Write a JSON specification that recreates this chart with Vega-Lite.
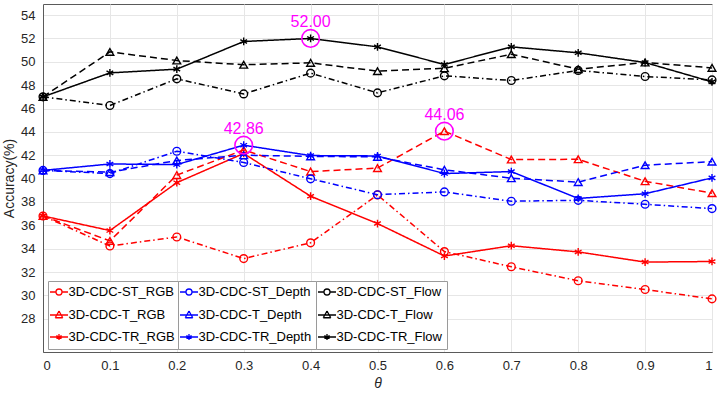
{
  "$schema": "https://vega.github.io/schema/vega-lite/v6.json",
  "width": 669,
  "height": 348,
  "autosize": {"type": "none"},
  "padding": {"left": 43, "top": 4, "right": 8, "bottom": 44},
  "background": "white",
  "config": {
    "font": "Liberation Sans",
    "view": {"stroke": "#5a5a5a", "strokeWidth": 1},
    "axis": {
      "domainColor": "#5a5a5a",
      "ticks": false,
      "gridColor": "#e6e6e6",
      "gridWidth": 1,
      "labelFont": "Liberation Sans",
      "labelFontSize": 13,
      "labelColor": "#262626",
      "titleFont": "Liberation Sans",
      "titleFontSize": 14,
      "titleFontWeight": "normal",
      "titleColor": "#262626"
    },
    "legend": {
      "title": null, "orient": "none", "direction": "vertical",
      "fillColor": "white", "strokeColor": "#9a9a9a", "padding": 4.5, "symbolSize": 100,
      "labelFontSize": 13, "labelOffset": 3, "rowPadding": 8, "labelColor": "#000000", "labelLimit": 300,
      "symbolStrokeWidth": 1.3, "symbolFillColor": "transparent", "symbolOpacity": 1
    }
  },
  "datasets": {
    "acc": [
      {"theta": 0, "acc": 36.8, "series": "3D-CDC-ST_RGB", "modality": "RGB", "type": "ST"},
      {"theta": 0.1, "acc": 34.23, "series": "3D-CDC-ST_RGB", "modality": "RGB", "type": "ST"},
      {"theta": 0.2, "acc": 35.0, "series": "3D-CDC-ST_RGB", "modality": "RGB", "type": "ST"},
      {"theta": 0.3, "acc": 33.15, "series": "3D-CDC-ST_RGB", "modality": "RGB", "type": "ST"},
      {"theta": 0.4, "acc": 34.5, "series": "3D-CDC-ST_RGB", "modality": "RGB", "type": "ST"},
      {"theta": 0.5, "acc": 38.6, "series": "3D-CDC-ST_RGB", "modality": "RGB", "type": "ST"},
      {"theta": 0.6, "acc": 33.75, "series": "3D-CDC-ST_RGB", "modality": "RGB", "type": "ST"},
      {"theta": 0.7, "acc": 32.45, "series": "3D-CDC-ST_RGB", "modality": "RGB", "type": "ST"},
      {"theta": 0.8, "acc": 31.25, "series": "3D-CDC-ST_RGB", "modality": "RGB", "type": "ST"},
      {"theta": 0.9, "acc": 30.5, "series": "3D-CDC-ST_RGB", "modality": "RGB", "type": "ST"},
      {"theta": 1, "acc": 29.7, "series": "3D-CDC-ST_RGB", "modality": "RGB", "type": "ST"},
      {"theta": 0, "acc": 36.8, "series": "3D-CDC-T_RGB", "modality": "RGB", "type": "T"},
      {"theta": 0.1, "acc": 34.66, "series": "3D-CDC-T_RGB", "modality": "RGB", "type": "T"},
      {"theta": 0.2, "acc": 40.3, "series": "3D-CDC-T_RGB", "modality": "RGB", "type": "T"},
      {"theta": 0.3, "acc": 42.45, "series": "3D-CDC-T_RGB", "modality": "RGB", "type": "T"},
      {"theta": 0.4, "acc": 40.6, "series": "3D-CDC-T_RGB", "modality": "RGB", "type": "T"},
      {"theta": 0.5, "acc": 40.9, "series": "3D-CDC-T_RGB", "modality": "RGB", "type": "T"},
      {"theta": 0.6, "acc": 44.06, "series": "3D-CDC-T_RGB", "modality": "RGB", "type": "T"},
      {"theta": 0.7, "acc": 41.63, "series": "3D-CDC-T_RGB", "modality": "RGB", "type": "T"},
      {"theta": 0.8, "acc": 41.65, "series": "3D-CDC-T_RGB", "modality": "RGB", "type": "T"},
      {"theta": 0.9, "acc": 39.77, "series": "3D-CDC-T_RGB", "modality": "RGB", "type": "T"},
      {"theta": 1, "acc": 38.75, "series": "3D-CDC-T_RGB", "modality": "RGB", "type": "T"},
      {"theta": 0, "acc": 36.8, "series": "3D-CDC-TR_RGB", "modality": "RGB", "type": "TR"},
      {"theta": 0.1, "acc": 35.55, "series": "3D-CDC-TR_RGB", "modality": "RGB", "type": "TR"},
      {"theta": 0.2, "acc": 39.65, "series": "3D-CDC-TR_RGB", "modality": "RGB", "type": "TR"},
      {"theta": 0.3, "acc": 42.15, "series": "3D-CDC-TR_RGB", "modality": "RGB", "type": "TR"},
      {"theta": 0.4, "acc": 38.49, "series": "3D-CDC-TR_RGB", "modality": "RGB", "type": "TR"},
      {"theta": 0.5, "acc": 36.15, "series": "3D-CDC-TR_RGB", "modality": "RGB", "type": "TR"},
      {"theta": 0.6, "acc": 33.37, "series": "3D-CDC-TR_RGB", "modality": "RGB", "type": "TR"},
      {"theta": 0.7, "acc": 34.25, "series": "3D-CDC-TR_RGB", "modality": "RGB", "type": "TR"},
      {"theta": 0.8, "acc": 33.72, "series": "3D-CDC-TR_RGB", "modality": "RGB", "type": "TR"},
      {"theta": 0.9, "acc": 32.85, "series": "3D-CDC-TR_RGB", "modality": "RGB", "type": "TR"},
      {"theta": 1, "acc": 32.9, "series": "3D-CDC-TR_RGB", "modality": "RGB", "type": "TR"},
      {"theta": 0, "acc": 40.7, "series": "3D-CDC-ST_Depth", "modality": "Depth", "type": "ST"},
      {"theta": 0.1, "acc": 40.43, "series": "3D-CDC-ST_Depth", "modality": "Depth", "type": "ST"},
      {"theta": 0.2, "acc": 42.34, "series": "3D-CDC-ST_Depth", "modality": "Depth", "type": "ST"},
      {"theta": 0.3, "acc": 41.38, "series": "3D-CDC-ST_Depth", "modality": "Depth", "type": "ST"},
      {"theta": 0.4, "acc": 39.98, "series": "3D-CDC-ST_Depth", "modality": "Depth", "type": "ST"},
      {"theta": 0.5, "acc": 38.62, "series": "3D-CDC-ST_Depth", "modality": "Depth", "type": "ST"},
      {"theta": 0.6, "acc": 38.86, "series": "3D-CDC-ST_Depth", "modality": "Depth", "type": "ST"},
      {"theta": 0.7, "acc": 38.06, "series": "3D-CDC-ST_Depth", "modality": "Depth", "type": "ST"},
      {"theta": 0.8, "acc": 38.14, "series": "3D-CDC-ST_Depth", "modality": "Depth", "type": "ST"},
      {"theta": 0.9, "acc": 37.8, "series": "3D-CDC-ST_Depth", "modality": "Depth", "type": "ST"},
      {"theta": 1, "acc": 37.43, "series": "3D-CDC-ST_Depth", "modality": "Depth", "type": "ST"},
      {"theta": 0, "acc": 40.7, "series": "3D-CDC-T_Depth", "modality": "Depth", "type": "T"},
      {"theta": 0.1, "acc": 40.55, "series": "3D-CDC-T_Depth", "modality": "Depth", "type": "T"},
      {"theta": 0.2, "acc": 41.55, "series": "3D-CDC-T_Depth", "modality": "Depth", "type": "T"},
      {"theta": 0.3, "acc": 42.0, "series": "3D-CDC-T_Depth", "modality": "Depth", "type": "T"},
      {"theta": 0.4, "acc": 41.9, "series": "3D-CDC-T_Depth", "modality": "Depth", "type": "T"},
      {"theta": 0.5, "acc": 41.86, "series": "3D-CDC-T_Depth", "modality": "Depth", "type": "T"},
      {"theta": 0.6, "acc": 40.75, "series": "3D-CDC-T_Depth", "modality": "Depth", "type": "T"},
      {"theta": 0.7, "acc": 40.03, "series": "3D-CDC-T_Depth", "modality": "Depth", "type": "T"},
      {"theta": 0.8, "acc": 39.7, "series": "3D-CDC-T_Depth", "modality": "Depth", "type": "T"},
      {"theta": 0.9, "acc": 41.15, "series": "3D-CDC-T_Depth", "modality": "Depth", "type": "T"},
      {"theta": 1, "acc": 41.45, "series": "3D-CDC-T_Depth", "modality": "Depth", "type": "T"},
      {"theta": 0, "acc": 40.7, "series": "3D-CDC-TR_Depth", "modality": "Depth", "type": "TR"},
      {"theta": 0.1, "acc": 41.25, "series": "3D-CDC-TR_Depth", "modality": "Depth", "type": "TR"},
      {"theta": 0.2, "acc": 41.2, "series": "3D-CDC-TR_Depth", "modality": "Depth", "type": "TR"},
      {"theta": 0.3, "acc": 42.86, "series": "3D-CDC-TR_Depth", "modality": "Depth", "type": "TR"},
      {"theta": 0.4, "acc": 41.97, "series": "3D-CDC-TR_Depth", "modality": "Depth", "type": "TR"},
      {"theta": 0.5, "acc": 41.94, "series": "3D-CDC-TR_Depth", "modality": "Depth", "type": "TR"},
      {"theta": 0.6, "acc": 40.43, "series": "3D-CDC-TR_Depth", "modality": "Depth", "type": "TR"},
      {"theta": 0.7, "acc": 40.6, "series": "3D-CDC-TR_Depth", "modality": "Depth", "type": "TR"},
      {"theta": 0.8, "acc": 38.3, "series": "3D-CDC-TR_Depth", "modality": "Depth", "type": "TR"},
      {"theta": 0.9, "acc": 38.7, "series": "3D-CDC-TR_Depth", "modality": "Depth", "type": "TR"},
      {"theta": 1, "acc": 40.06, "series": "3D-CDC-TR_Depth", "modality": "Depth", "type": "TR"},
      {"theta": 0, "acc": 47.0, "series": "3D-CDC-ST_Flow", "modality": "Flow", "type": "ST"},
      {"theta": 0.1, "acc": 46.26, "series": "3D-CDC-ST_Flow", "modality": "Flow", "type": "ST"},
      {"theta": 0.2, "acc": 48.54, "series": "3D-CDC-ST_Flow", "modality": "Flow", "type": "ST"},
      {"theta": 0.3, "acc": 47.25, "series": "3D-CDC-ST_Flow", "modality": "Flow", "type": "ST"},
      {"theta": 0.4, "acc": 49.03, "series": "3D-CDC-ST_Flow", "modality": "Flow", "type": "ST"},
      {"theta": 0.5, "acc": 47.34, "series": "3D-CDC-ST_Flow", "modality": "Flow", "type": "ST"},
      {"theta": 0.6, "acc": 48.8, "series": "3D-CDC-ST_Flow", "modality": "Flow", "type": "ST"},
      {"theta": 0.7, "acc": 48.4, "series": "3D-CDC-ST_Flow", "modality": "Flow", "type": "ST"},
      {"theta": 0.8, "acc": 49.26, "series": "3D-CDC-ST_Flow", "modality": "Flow", "type": "ST"},
      {"theta": 0.9, "acc": 48.74, "series": "3D-CDC-ST_Flow", "modality": "Flow", "type": "ST"},
      {"theta": 1, "acc": 48.45, "series": "3D-CDC-ST_Flow", "modality": "Flow", "type": "ST"},
      {"theta": 0, "acc": 47.0, "series": "3D-CDC-T_Flow", "modality": "Flow", "type": "T"},
      {"theta": 0.1, "acc": 50.85, "series": "3D-CDC-T_Flow", "modality": "Flow", "type": "T"},
      {"theta": 0.2, "acc": 50.11, "series": "3D-CDC-T_Flow", "modality": "Flow", "type": "T"},
      {"theta": 0.3, "acc": 49.75, "series": "3D-CDC-T_Flow", "modality": "Flow", "type": "T"},
      {"theta": 0.4, "acc": 49.91, "series": "3D-CDC-T_Flow", "modality": "Flow", "type": "T"},
      {"theta": 0.5, "acc": 49.2, "series": "3D-CDC-T_Flow", "modality": "Flow", "type": "T"},
      {"theta": 0.6, "acc": 49.45, "series": "3D-CDC-T_Flow", "modality": "Flow", "type": "T"},
      {"theta": 0.7, "acc": 50.65, "series": "3D-CDC-T_Flow", "modality": "Flow", "type": "T"},
      {"theta": 0.8, "acc": 49.37, "series": "3D-CDC-T_Flow", "modality": "Flow", "type": "T"},
      {"theta": 0.9, "acc": 49.94, "series": "3D-CDC-T_Flow", "modality": "Flow", "type": "T"},
      {"theta": 1, "acc": 49.48, "series": "3D-CDC-T_Flow", "modality": "Flow", "type": "T"},
      {"theta": 0, "acc": 47.0, "series": "3D-CDC-TR_Flow", "modality": "Flow", "type": "TR"},
      {"theta": 0.1, "acc": 49.05, "series": "3D-CDC-TR_Flow", "modality": "Flow", "type": "TR"},
      {"theta": 0.2, "acc": 49.37, "series": "3D-CDC-TR_Flow", "modality": "Flow", "type": "TR"},
      {"theta": 0.3, "acc": 51.74, "series": "3D-CDC-TR_Flow", "modality": "Flow", "type": "TR"},
      {"theta": 0.4, "acc": 52.0, "series": "3D-CDC-TR_Flow", "modality": "Flow", "type": "TR"},
      {"theta": 0.5, "acc": 51.28, "series": "3D-CDC-TR_Flow", "modality": "Flow", "type": "TR"},
      {"theta": 0.6, "acc": 49.77, "series": "3D-CDC-TR_Flow", "modality": "Flow", "type": "TR"},
      {"theta": 0.7, "acc": 51.28, "series": "3D-CDC-TR_Flow", "modality": "Flow", "type": "TR"},
      {"theta": 0.8, "acc": 50.77, "series": "3D-CDC-TR_Flow", "modality": "Flow", "type": "TR"},
      {"theta": 0.9, "acc": 49.94, "series": "3D-CDC-TR_Flow", "modality": "Flow", "type": "TR"},
      {"theta": 1, "acc": 48.28, "series": "3D-CDC-TR_Flow", "modality": "Flow", "type": "TR"}
    ],
    "ann": [
      {"theta": 0.3, "acc": 42.86, "label": "42.86"},
      {"theta": 0.4, "acc": 52.0, "label": "52.00"},
      {"theta": 0.6, "acc": 44.06, "label": "44.06"}
    ]
  },
  "encoding": {
    "x": {
      "field": "theta",
      "type": "quantitative",
      "scale": {"domain": [0, 1], "nice": false},
      "axis": {
        "values": [0, 0.1, 0.2, 0.3, 0.4, 0.5, 0.6, 0.7, 0.8, 0.9, 1],
        "format": "~g",
        "title": "θ",
        "titleFontStyle": "italic",
        "labelPadding": 7,
        "titlePadding": 4
      }
    },
    "y": {
      "field": "acc",
      "type": "quantitative",
      "scale": {"domain": [25.15, 54.95], "nice": false, "zero": false},
      "axis": {
        "values": [28, 30, 32, 34, 36, 38, 40, 42, 44, 46, 48, 50, 52, 54],
        "title": "Accuracy(%)",
        "labelPadding": 8,
        "titlePadding": 4
      }
    }
  },
  "layer": [
    {
      "data": {"name": "acc"},
      "transform": [{"filter": "datum.modality === 'RGB'"}],
      "layer": [
        {
          "mark": {"type": "line", "color": "#ff0000", "strokeWidth": 1.5},
          "encoding": {
            "strokeDash": {"field": "type", "type": "nominal", "scale": {"domain": ["ST", "T", "TR"], "range": [[6, 3, 1.5, 3], [7, 4], [1, 0]]}, "legend": null}
          }
        },
        {
          "mark": {"type": "point", "color": "#ff0000", "filled": false, "strokeWidth": 1.4, "size": 60, "opacity": 1},
          "encoding": {
            "shape": {
              "field": "series", "type": "nominal",
              "scale": {"domain": ["3D-CDC-ST_RGB", "3D-CDC-T_RGB", "3D-CDC-TR_RGB"], "range": ["circle", "triangle-up", "M0,-1V1M-0.87,-0.5L0.87,0.5M-0.87,0.5L0.87,-0.5M-0.5,0H0.5"]},
              "legend": null
            }
          }
        },
        {
          "mark": {"type": "point", "color": "#ff0000", "filled": false, "strokeWidth": 1.3, "size": 0},
          "encoding": {
            "shape": {
              "field": "series", "type": "nominal",
              "scale": {"domain": ["3D-CDC-ST_RGB", "3D-CDC-T_RGB", "3D-CDC-TR_RGB"], "range": ["M-1.8,0H-0.6M0.6,0H1.8M-0.6,0A0.6,0.6 0 1 1 0.6,0A0.6,0.6 0 1 1 -0.6,0", "M-1.8,0H1.8M0,-0.8L0.75,0.55M0.75,0.55L-0.75,0.55M-0.75,0.55L0,-0.8", "M-1.8,0H1.8M0,-0.6V0.6M-0.52,-0.3L0.52,0.3M-0.52,0.3L0.52,-0.3"]},
              "legend": {"legendX": 5, "legendY": 277, "symbolStrokeColor": "#ff0000", "symbolSize": 100}
            }
          }
        }
      ],
      "resolve": {"scale": {"shape": "independent"}, "legend": {"shape": "independent"}}
    },
    {
      "data": {"name": "acc"},
      "transform": [{"filter": "datum.modality === 'Depth'"}],
      "layer": [
        {
          "mark": {"type": "line", "color": "#0000ff", "strokeWidth": 1.5},
          "encoding": {
            "strokeDash": {"field": "type", "type": "nominal", "scale": {"domain": ["ST", "T", "TR"], "range": [[6, 3, 1.5, 3], [7, 4], [1, 0]]}, "legend": null}
          }
        },
        {
          "mark": {"type": "point", "color": "#0000ff", "filled": false, "strokeWidth": 1.4, "size": 60, "opacity": 1},
          "encoding": {
            "shape": {
              "field": "series", "type": "nominal",
              "scale": {"domain": ["3D-CDC-ST_Depth", "3D-CDC-T_Depth", "3D-CDC-TR_Depth"], "range": ["circle", "triangle-up", "M0,-1V1M-0.87,-0.5L0.87,0.5M-0.87,0.5L0.87,-0.5M-0.5,0H0.5"]},
              "legend": null
            }
          }
        },
        {
          "mark": {"type": "point", "color": "#0000ff", "filled": false, "strokeWidth": 1.3, "size": 0},
          "encoding": {
            "shape": {
              "field": "series", "type": "nominal",
              "scale": {"domain": ["3D-CDC-ST_Depth", "3D-CDC-T_Depth", "3D-CDC-TR_Depth"], "range": ["M-1.8,0H-0.6M0.6,0H1.8M-0.6,0A0.6,0.6 0 1 1 0.6,0A0.6,0.6 0 1 1 -0.6,0", "M-1.8,0H1.8M0,-0.8L0.75,0.55M0.75,0.55L-0.75,0.55M-0.75,0.55L0,-0.8", "M-1.8,0H1.8M0,-0.6V0.6M-0.52,-0.3L0.52,0.3M-0.52,0.3L0.52,-0.3"]},
              "legend": {"legendX": 135, "legendY": 277, "symbolStrokeColor": "#0000ff", "symbolSize": 100}
            }
          }
        }
      ],
      "resolve": {"scale": {"shape": "independent"}, "legend": {"shape": "independent"}}
    },
    {
      "data": {"name": "acc"},
      "transform": [{"filter": "datum.modality === 'Flow'"}],
      "layer": [
        {
          "mark": {"type": "line", "color": "#000000", "strokeWidth": 1.5},
          "encoding": {
            "strokeDash": {"field": "type", "type": "nominal", "scale": {"domain": ["ST", "T", "TR"], "range": [[6, 3, 1.5, 3], [7, 4], [1, 0]]}, "legend": null}
          }
        },
        {
          "mark": {"type": "point", "color": "#000000", "filled": false, "strokeWidth": 1.4, "size": 60, "opacity": 1},
          "encoding": {
            "shape": {
              "field": "series", "type": "nominal",
              "scale": {"domain": ["3D-CDC-ST_Flow", "3D-CDC-T_Flow", "3D-CDC-TR_Flow"], "range": ["circle", "triangle-up", "M0,-1V1M-0.87,-0.5L0.87,0.5M-0.87,0.5L0.87,-0.5M-0.5,0H0.5"]},
              "legend": null
            }
          }
        },
        {
          "mark": {"type": "point", "color": "#000000", "filled": false, "strokeWidth": 1.3, "size": 0},
          "encoding": {
            "shape": {
              "field": "series", "type": "nominal",
              "scale": {"domain": ["3D-CDC-ST_Flow", "3D-CDC-T_Flow", "3D-CDC-TR_Flow"], "range": ["M-1.8,0H-0.6M0.6,0H1.8M-0.6,0A0.6,0.6 0 1 1 0.6,0A0.6,0.6 0 1 1 -0.6,0", "M-1.8,0H1.8M0,-0.8L0.75,0.55M0.75,0.55L-0.75,0.55M-0.75,0.55L0,-0.8", "M-1.8,0H1.8M0,-0.6V0.6M-0.52,-0.3L0.52,0.3M-0.52,0.3L0.52,-0.3"]},
              "legend": {"legendX": 273, "legendY": 277, "symbolStrokeColor": "#000000", "symbolSize": 100}
            }
          }
        }
      ],
      "resolve": {"scale": {"shape": "independent"}, "legend": {"shape": "independent"}}
    },
    {
      "data": {"name": "ann"},
      "mark": {"type": "point", "shape": "circle", "size": 310, "color": "#ff00ff", "filled": false, "strokeWidth": 1.6, "opacity": 1}
    },
    {
      "data": {"name": "ann"},
      "mark": {"type": "text", "color": "#ff00ff", "fontSize": 16, "baseline": "alphabetic", "dy": -11, "font": "Liberation Sans"},
      "encoding": {"text": {"field": "label"}}
    }
  ],
  "resolve": {
    "scale": {"shape": "independent", "strokeDash": "independent"},
    "legend": {"shape": "independent"}
  }
}
